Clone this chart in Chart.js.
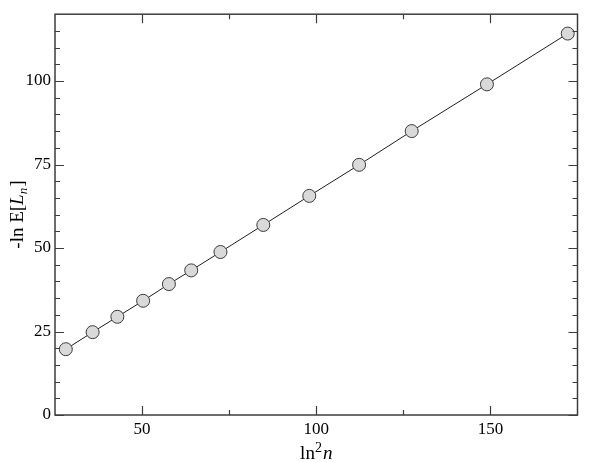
<!DOCTYPE html>
<html><head><meta charset="utf-8">
<script src="https://cdn.jsdelivr.net/npm/chart.js@4/dist/chart.umd.min.js"></script>
<style>html,body{margin:0;padding:0;background:#fff}canvas{display:block}
.pre{font-family:"Liberation Serif";position:absolute;left:-9999px;top:0}</style>
</head><body>
<span class="pre">0 ln n <i>L n</i></span>
<canvas id="c" width="598" height="462"></canvas>
<script>
// Data (x = ln^2 n, y = -ln E[L_n])
const xValues = [28.1, 35.8, 42.9, 50.3, 57.7, 64.1, 72.5, 84.8, 98.0, 112.3, 127.4, 149.0, 172.2];
const yValues = [19.7, 24.8, 29.4, 34.2, 39.2, 43.3, 48.8, 56.9, 65.6, 74.9, 85.0, 99.0, 114.2];
const xTickLabels = [50, 100, 150];
const yTickLabels = [0, 25, 50, 75, 100];
const xMinorTicks = [75, 125];
const yMinorTicks = [5, 10, 15, 20, 30, 35, 40, 45, 55, 60, 65, 70, 80, 85, 90, 95, 105, 110, 115];

const SERIF = '"Liberation Serif", "Times New Roman", Tinos, Times, serif';
const points = xValues.map((x, i) => ({ x: x, y: yValues[i] }));

function drawParts(ctx, parts, cx, baseY) {
  let total = 0;
  parts.forEach(p => { ctx.font = p.f; p.w = ctx.measureText(p.t).width; total += p.w + (p.gap || 0); });
  let x = cx - total / 2;
  parts.forEach(p => {
    ctx.font = p.f;
    ctx.fillText(p.t, x, baseY + (p.dy || 0));
    x += p.w + (p.gap || 0);
  });
}

const framePlugin = {
  id: 'frame',
  afterDraw(chart) {
    const ctx = chart.ctx;
    const a = chart.chartArea;
    const xs = chart.scales.x, ys = chart.scales.y;
    ctx.save();
    ctx.strokeStyle = '#3c3c3c';
    ctx.lineWidth = 1.5;
    ctx.strokeRect(a.left, a.top, a.right - a.left, a.bottom - a.top);
    ctx.lineWidth = 1.2;
    const MAJ = 9, MIN = 5;
    ctx.beginPath();
    const xt = (v, len) => {
      const px = Math.round(xs.getPixelForValue(v)) + 0.5;
      ctx.moveTo(px, a.bottom); ctx.lineTo(px, a.bottom - len);
      ctx.moveTo(px, a.top); ctx.lineTo(px, a.top + len);
    };
    const yt = (v, len) => {
      const py = Math.round(ys.getPixelForValue(v)) + 0.5;
      ctx.moveTo(a.left, py); ctx.lineTo(a.left + len, py);
      ctx.moveTo(a.right, py); ctx.lineTo(a.right - len, py);
    };
    xTickLabels.forEach(v => xt(v, MAJ));
    xMinorTicks.forEach(v => xt(v, MIN));
    yTickLabels.forEach(v => yt(v, MAJ));
    yMinorTicks.forEach(v => yt(v, MIN));
    ctx.stroke();

    // Axis titles
    ctx.fillStyle = '#000';
    ctx.textBaseline = 'alphabetic';
    ctx.textAlign = 'left';
    const cx = (a.left + a.right) / 2;
    drawParts(ctx, [
      { t: 'ln', f: '19px ' + SERIF },
      { t: '2', f: '14px ' + SERIF, dy: -7, gap: 1 },
      { t: 'n', f: 'italic 19px ' + SERIF }
    ], cx, 459);

    ctx.save();
    ctx.translate(23, (a.top + a.bottom) / 2);
    ctx.rotate(-Math.PI / 2);
    drawParts(ctx, [
      { t: '-ln E[', f: '19px ' + SERIF },
      { t: 'L', f: 'italic 19px ' + SERIF },
      { t: 'n', f: 'italic 13px ' + SERIF, dy: 4, gap: 1 },
      { t: ']', f: '19px ' + SERIF }
    ], 0, 0);
    ctx.restore();
    ctx.restore();
  }
};

function build() {
  new Chart(document.getElementById('c'), {
    type: 'scatter',
    data: {
      datasets: [{
        data: points,
        showLine: true,
        borderColor: '#1e1e1e',
        borderWidth: 1,
        pointRadius: 6.5,
        pointHoverRadius: 6.5,
        pointBackgroundColor: '#d9d9d9',
        pointBorderColor: '#3a3a3a',
        pointBorderWidth: 1,
        tension: 0,
        clip: false
      }]
    },
    options: {
      responsive: false,
      animation: false,
      events: [],
      layout: { padding: { top: 14, right: 20.5, left: 0, bottom: 0 } },
      plugins: { legend: { display: false }, tooltip: { enabled: false } },
      scales: {
        x: {
          type: 'linear', min: 25, max: 175,
          afterBuildTicks: s => { s.ticks = xTickLabels.map(v => ({ value: v })); },
          afterFit: s => { s.height = 47; },
          grid: { display: false, drawTicks: false, tickLength: 0 },
          border: { display: false },
          ticks: { padding: 4, color: '#000', font: { family: SERIF, size: 17 }, maxRotation: 0 }
        },
        y: {
          type: 'linear', min: 0, max: 120,
          afterBuildTicks: s => { s.ticks = yTickLabels.map(v => ({ value: v })); },
          afterFit: s => { s.width = 55; },
          grid: { display: false, drawTicks: false, tickLength: 0 },
          border: { display: false },
          ticks: { padding: 4, color: '#000', font: { family: SERIF, size: 17 } }
        }
      }
    },
    plugins: [framePlugin]
  });
}

if (document.fonts && document.fonts.load) {
  Promise.all([
    document.fonts.load('17px "Liberation Serif"'),
    document.fonts.load('italic 19px "Liberation Serif"')
  ]).then(build, build);
} else {
  build();
}
</script>
</body></html>
